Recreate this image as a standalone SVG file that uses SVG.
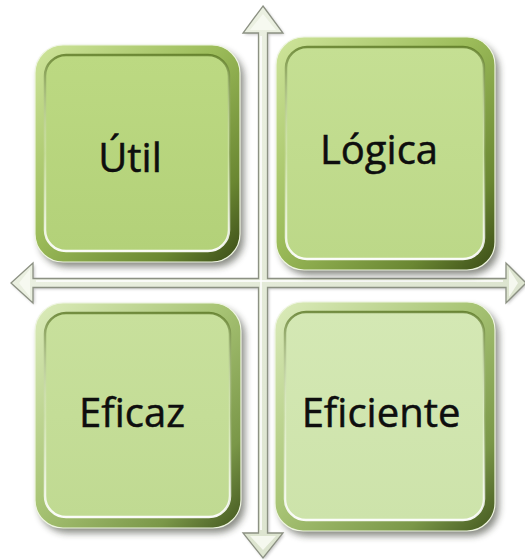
<svg xmlns="http://www.w3.org/2000/svg" width="525" height="560" viewBox="0 0 525 560">
<defs>
<filter id="sh" x="-20%" y="-20%" width="140%" height="140%"><feGaussianBlur stdDeviation="3.5"/></filter>
<filter id="ash" x="-10%" y="-10%" width="120%" height="120%"><feGaussianBlur stdDeviation="1.5"/></filter>
<linearGradient id="rimDark" x1="0" y1="0" x2="1" y2="1">
<stop offset="0" stop-color="#cfe59c"/><stop offset="0.45" stop-color="#9cbc5a"/><stop offset="0.8" stop-color="#6a8732"/><stop offset="1" stop-color="#3a4b16"/>
</linearGradient>
<linearGradient id="rimLight" x1="0" y1="0" x2="1" y2="1">
<stop offset="0" stop-color="#dcecbb"/><stop offset="0.45" stop-color="#a9c576"/><stop offset="0.8" stop-color="#7a9748"/><stop offset="1" stop-color="#43571f"/>
</linearGradient>
<linearGradient id="bevel" x1="0" y1="0" x2="0" y2="1">
<stop offset="0" stop-color="#55711f" stop-opacity="0.75"/><stop offset="0.5" stop-color="#ffffff" stop-opacity="0.2"/><stop offset="1" stop-color="#ffffff" stop-opacity="0.95"/>
</linearGradient>
<linearGradient id="f1" x1="0" y1="0" x2="0" y2="1"><stop offset="0" stop-color="#bcd982"/><stop offset="1" stop-color="#b3d179"/></linearGradient>
<linearGradient id="f2" x1="0" y1="0" x2="0" y2="1"><stop offset="0" stop-color="#c5df93"/><stop offset="1" stop-color="#bcd888"/></linearGradient>
<linearGradient id="f3" x1="0" y1="0" x2="0" y2="1"><stop offset="0" stop-color="#c8e09c"/><stop offset="1" stop-color="#c0da92"/></linearGradient>
<linearGradient id="f4" x1="0" y1="0" x2="0" y2="1"><stop offset="0" stop-color="#d4e8b4"/><stop offset="1" stop-color="#cde3aa"/></linearGradient>
<linearGradient id="arrowFill" x1="0" y1="0" x2="1" y2="1">
<stop offset="0" stop-color="#f2f6ea"/><stop offset="1" stop-color="#d5dec6"/>
</linearGradient>
</defs>
<style>
.shadow{fill:#2a2f20;opacity:0.55;filter:url(#sh)}
.rim{stroke:#eef5e0;stroke-width:1.2}
.face{stroke:url(#bevel);stroke-width:2.5}
.lbl{font-family:"Open Sans","Noto Sans","Liberation Sans",sans-serif;font-size:40px;fill:#0e0e0e;stroke:#0e0e0e;stroke-width:0.5;text-anchor:middle}
.arrow{fill:url(#arrowFill);stroke:#8c9183;stroke-width:1.3;stroke-linejoin:miter}
.ahl{fill:#f7faf2;opacity:0.9}
</style>

<g id="connectors">
<polygon points="263,6 283,33 267.5,33 267.5,278.5 506,278.5 506,263 526,283 506,303 506,287.5 267.5,287.5 267.5,533 283,533 263,558 243,533 258.5,533 258.5,287.5 33,287.5 33,303 11,283 33,263 33,278.5 258.5,278.5 258.5,33 243,33" fill="#555" opacity="0.35" filter="url(#ash)" transform="translate(1.5,1.5)"/>
<polygon class="arrow" points="263,6 283,33 267.5,33 267.5,278.5 506,278.5 506,263 526,283 506,303 506,287.5 267.5,287.5 267.5,533 283,533 263,558 243,533 258.5,533 258.5,287.5 33,287.5 33,303 11,283 33,263 33,278.5 258.5,278.5 258.5,33 243,33"/>
<polygon class="ahl" points="263,14 276,30 250,30"/>
<polygon class="ahl" points="263,550 276,536 250,536"/>
<polygon class="ahl" points="19,283 30,269 30,297"/>
<polygon class="ahl" points="518,283 509,269 509,297"/>
<line x1="261" y1="36" x2="261" y2="530" stroke="#ffffff" stroke-width="2" opacity="0.8"/>
<line x1="36" y1="281" x2="503" y2="281" stroke="#ffffff" stroke-width="2" opacity="0.8"/>
</g>

<g id="node-util">
<rect class="shadow" x="39" y="50" width="205" height="217" rx="28"/>
<rect class="rim" x="35" y="45" width="205" height="217" rx="28" fill="url(#rimDark)"/>
<rect class="face" x="45" y="55" width="184" height="196" rx="21" fill="url(#f1)"/>
<text class="lbl" x="130" y="172">Útil</text>
</g>

<g id="node-logica">
<rect class="shadow" x="280" y="42" width="219" height="233" rx="28"/>
<rect class="rim" x="276" y="37" width="219" height="233" rx="28" fill="url(#rimDark)"/>
<rect class="face" x="286" y="47" width="198" height="212" rx="21" fill="url(#f2)"/>
<text class="lbl" x="379" y="164">Lógica</text>
</g>

<g id="node-eficaz">
<rect class="shadow" x="39" y="308" width="206" height="225" rx="28"/>
<rect class="rim" x="35" y="303" width="206" height="225" rx="28" fill="url(#rimLight)"/>
<rect class="face" x="45" y="313" width="185" height="204" rx="21" fill="url(#f3)"/>
<text class="lbl" x="132" y="427">Eficaz</text>
</g>

<g id="node-eficiente">
<rect class="shadow" x="279" y="307" width="220" height="229" rx="28"/>
<rect class="rim" x="275" y="302" width="220" height="229" rx="28" fill="url(#rimLight)"/>
<rect class="face" x="285" y="312" width="199" height="208" rx="21" fill="url(#f4)"/>
<text class="lbl" x="381" y="427">Eficiente</text>
</g>
</svg>
